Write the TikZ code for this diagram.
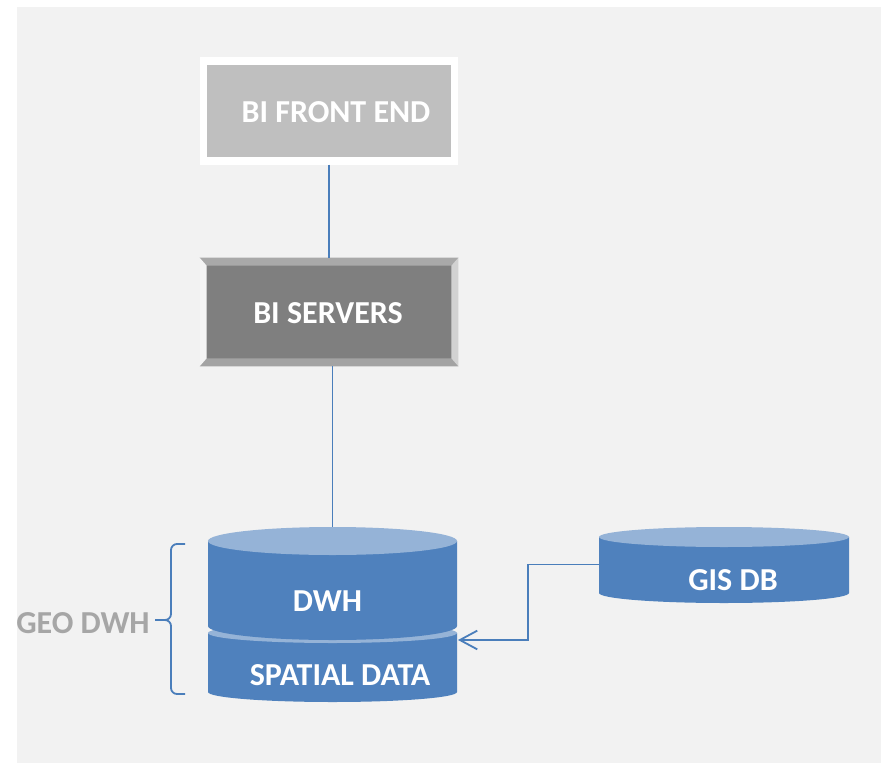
\documentclass[tikz,border=0pt]{standalone}
\usepackage{fontspec}
\setmainfont{Carlito}
\usetikzlibrary{arrows.meta}
\definecolor{pagebg}{HTML}{F2F2F2}
\definecolor{frontfill}{HTML}{BFBFBF}
\definecolor{srvfill}{HTML}{7F7F7F}
\definecolor{bevtop}{HTML}{A9A9A9}
\definecolor{bevleft}{HTML}{F4F4F4}
\definecolor{bevright}{HTML}{D2D2D2}
\definecolor{bevbot}{HTML}{A3A3A3}
\definecolor{dbbody}{HTML}{4F81BD}
\definecolor{dbtop}{HTML}{95B3D7}
\definecolor{linkblue}{HTML}{4A7EBB}
\definecolor{geogray}{HTML}{A6A6A6}
\tikzset{
  lbl/.style={font=\fontsize{24pt}{27pt}\selectfont\bfseries, text=white, inner sep=0pt},
  geolbl/.style={lbl, text=geogray},
  frontbox/.style={rectangle, fill=frontfill, draw=white, line width=5.6pt,
    minimum width=188.25pt, minimum height=75pt, inner sep=0pt},
  srvbox/.style={rectangle, fill=srvfill, minimum width=193.5pt, minimum height=81pt, inner sep=0pt},
  dbarea/.style={rectangle, minimum width=#1, inner sep=0pt},
  link/.style={draw=linkblue, line width=1.35pt},
  bracket/.style={draw=linkblue, line width=1.35pt, rounded corners=4.5pt},
}
% cylinder: left x, right x, top ellipse centre y, bottom ellipse centre y, half height of the ellipses (px)
\newcommand{\dbcylinder}[5]{%
  \fill[dbbody] (#1,#3) -- (#1,#4)
    arc[start angle=180, end angle=360, x radius={(#2-#1)*0.375pt}, y radius={#5*0.75pt}]
    -- (#2,#3) -- cycle;
  \fill[dbtop] ({(#1+#2)/2},#3) ellipse[x radius={(#2-#1)*0.375pt}, y radius={#5*0.75pt}];
}
\begin{document}
\begin{tikzpicture}[x=0.75pt, y=-0.75pt]
  % canvas
  \fill[white] (0,0) rectangle (881,763);
  \fill[pagebg] (17,7) rectangle (881,763);
  \useasboundingbox (0,0) rectangle (881,763);

  % BI front end
  \node[frontbox] (front) at (329,111) {};
  \node[lbl] (frontlbl) at (336,112) {BI FRONT END};

  % BI servers with bevelled edge
  \node[srvbox] (srv) at (329,312) {};
  \fill[bevtop] (srv.north west) -- (srv.north east) -- ++(-7,8) -- ([shift={(7,8)}]srv.north west) -- cycle;
  \fill[bevbot] (srv.south west) -- (srv.south east) -- ++(-7,-8) -- ([shift={(7,-8)}]srv.south west) -- cycle;
  \fill[bevleft] (srv.north west) -- (srv.south west) -- ++(7,-8) -- ([shift={(7,8)}]srv.north west) -- cycle;
  \fill[bevright] (srv.north east) -- (srv.south east) -- ++(-7,-8) -- ([shift={(-7,8)}]srv.north east) -- cycle;
  \node[lbl] (srvlbl) at (328,313) {BI SERVERS};

  % geo data warehouse: spatial layer below, DWH above
  \dbcylinder{208}{457}{633}{692}{10}
  \dbcylinder{208}{457}{541}{626}{14}
  \node[dbarea=186.75pt, minimum height=85.5pt] (dwh) at (332.5,584) {};
  \node[dbarea=186.75pt, minimum height=51.75pt] (spatial) at (332.5,667.5) {};
  \node[lbl] (dwhlbl) at (327.5,601) {DWH};
  \node[lbl] (spatiallbl) at (340,675) {SPATIAL DATA};
  \coordinate (spatialin) at (458,640);

  % GIS database
  \dbcylinder{599}{849}{537}{593}{10}
  \node[dbarea=187.5pt, minimum height=56.25pt] (gis) at (724,564.5) {};
  \node[lbl] (gislbl) at (733,580) {GIS DB};

  % connectors
  \draw[link] (front.south) -- (srv.north);
  \draw[link] (dwh.north |- srv.south) -- (dwh.north);
  \draw[link, -{Straight Barb[length=13pt, width=14pt]}] (gis.west) -- ++(-71,0) |- (spatialin);

  % brace and its label
  \coordinate (bracetop) at (185,544);
  \coordinate (bracebot) at (185,694);
  \coordinate (bracetip) at (155,620);
  \draw[bracket] (bracetop) -- (171,544) -- (171,620) -- (bracetip);
  \draw[bracket] (bracetip) -- (171,620) -- (171,694) -- (bracebot);
  \node[geolbl] (geo) at (83,623.5) {GEO DWH};
\end{tikzpicture}
\end{document}
